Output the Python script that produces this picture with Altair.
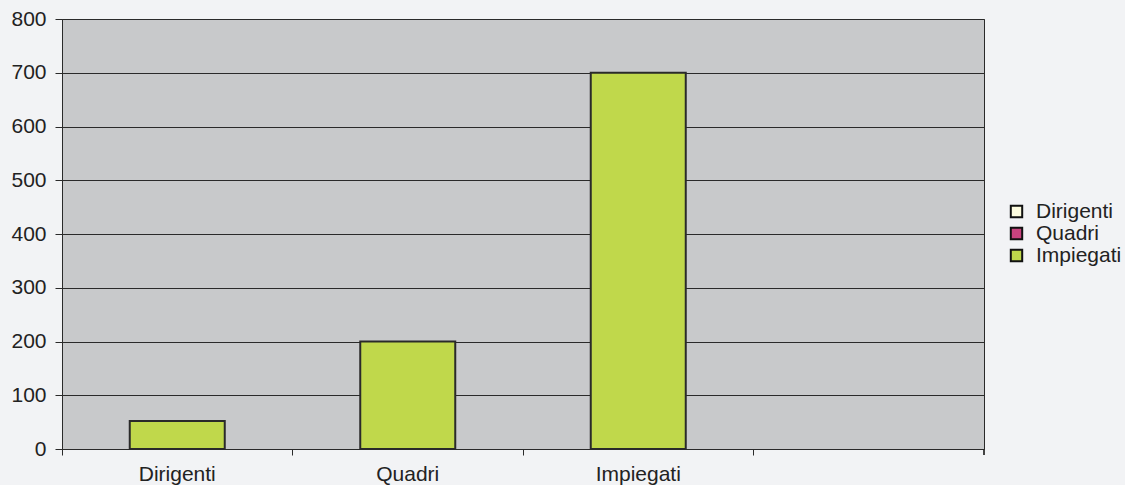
import altair as alt
import pandas as pd

# Headcount by category
categorie = ["Dirigenti", "Quadri", "Impiegati"]
valori = [52, 200, 700]
serie_barre = ["Impiegati", "Impiegati", "Impiegati"]

# Series shown in the legend and their fills
serie_legenda = ["Dirigenti", "Quadri", "Impiegati"]
colori_legenda = ["#fdfcdf", "#c8437e", "#c0d84b"]

# Four category slots on the x axis, the last one left empty
slot_x = categorie + [""]

y_ticks = [0, 100, 200, 300, 400, 500, 600, 700, 800]

df = pd.DataFrame({"categoria": categorie, "valore": valori, "serie": serie_barre})

W, H = 922, 430
FONT = "Liberation Sans"
DARK = "#2a2a2a"
FS = 21

bars = alt.Chart(df).mark_bar(
    width=alt.RelativeBandSize(95 / 230.5),
    stroke=DARK,
    strokeWidth=2,
).encode(
    x=alt.X(
        "categoria:N",
        scale=alt.Scale(domain=slot_x, paddingInner=0, paddingOuter=0),
        sort=slot_x,
        axis=alt.Axis(
            title=None,
            labelAngle=0,
            bandPosition=0,
            tickSize=6,
            tickColor=DARK,
            domainColor=DARK,
            labelFontSize=FS,
            labelFont=FONT,
            labelColor="#222222",
            labelPadding=8,
            grid=False,
        ),
    ),
    y=alt.Y(
        "valore:Q",
        scale=alt.Scale(domain=[0, 800], nice=False),
        axis=alt.Axis(
            title=None,
            values=y_ticks,
            tickSize=7,
            tickColor=DARK,
            domainColor=DARK,
            gridColor=DARK,
            gridWidth=1,
            labelFontSize=FS,
            labelFont=FONT,
            labelColor="#222222",
            labelPadding=9,
        ),
    ),
    color=alt.Color(
        "serie:N",
        scale=alt.Scale(domain=serie_legenda, range=colori_legenda),
        legend=alt.Legend(
            title=None,
            orient="none",
            legendX=944,
            legendY=182,
            symbolType="square",
            symbolSize=130,
            symbolStrokeColor="#111111",
            symbolStrokeWidth=2,
            labelFontSize=FS,
            labelFont=FONT,
            labelColor="#222222",
            labelOffset=9,
            rowPadding=0,
        ),
    ),
)

# Closing tick at the right end of the x axis
end_tick = alt.Chart(df).mark_rule(color=DARK, strokeWidth=1).encode(
    x=alt.value(W), y=alt.value(H), y2=alt.value(H + 6)
)

chart = (
    alt.layer(bars, end_tick)
    .properties(
        width=W,
        height=H,
        autosize=alt.AutoSizeParams(type="none"),
        padding={"left": 62, "top": 19, "right": 141, "bottom": 36},
        background="#f2f3f5",
    )
    .configure_view(fill="#c8c9cb", stroke=DARK, strokeWidth=1)
)

chart.save("out.html", embed_options={"renderer": "svg", "actions": False})
